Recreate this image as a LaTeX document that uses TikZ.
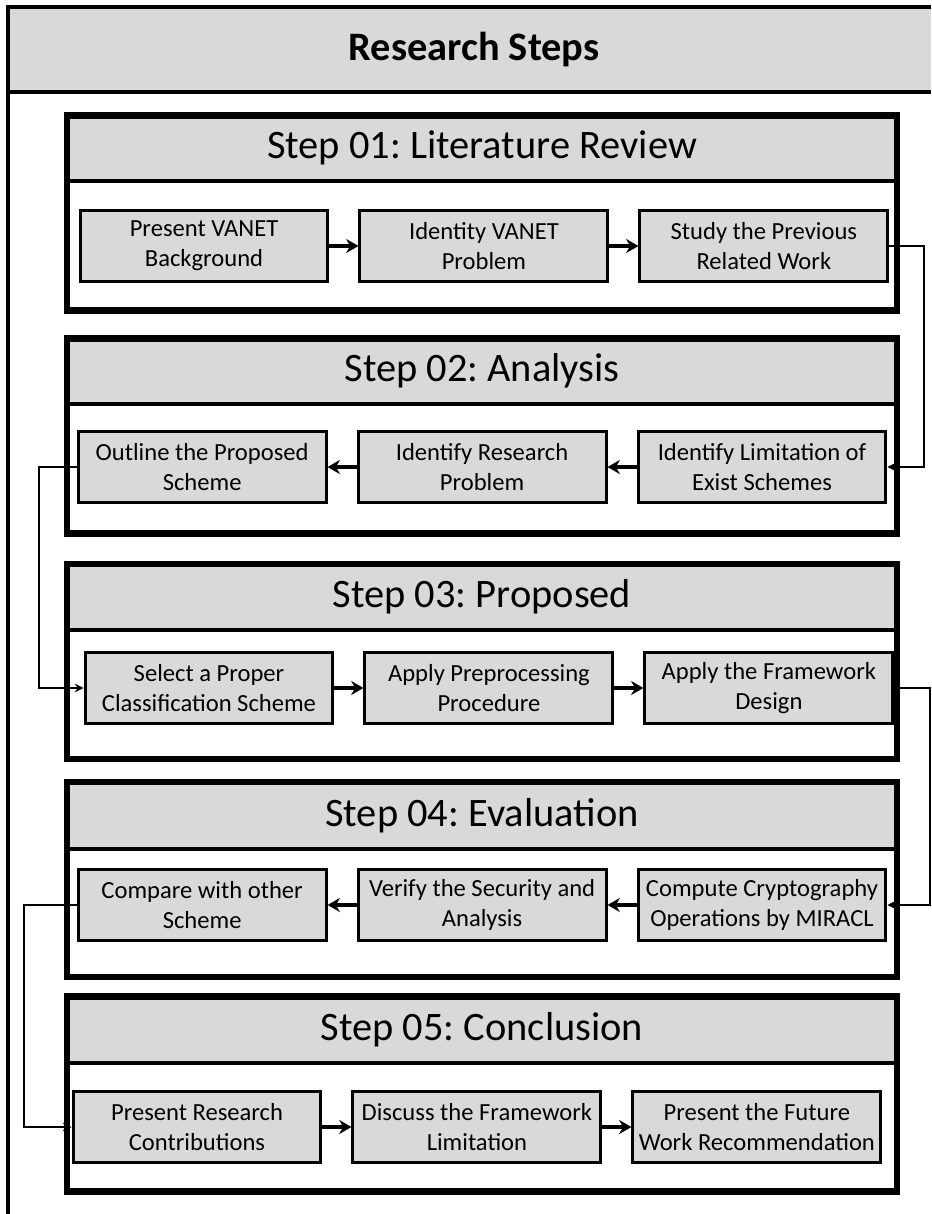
\documentclass[tikz,border=0pt]{standalone}
\usepackage{fontspec}
\setmainfont{Carlito}
\usepackage{tikz}
\usetikzlibrary{arrows.meta,positioning}
\definecolor{boxgray}{HTML}{D9D9D9}
\frenchspacing
\tikzset{
  task/.style={draw=black,line width=1.7pt,fill=boxgray,align=center,
               font=\fontsize{14}{17}\selectfont,minimum width=4.96cm,minimum height=1.42cm,inner sep=1pt},
  stepband/.style={draw=black,line width=2.3pt,fill=boxgray,minimum width=16.6cm,minimum height=1.32cm,
               font=\fontsize{23}{28}\selectfont,inner sep=0pt},
  stepframe/.style={draw=black,line width=3.6pt,minimum width=16.6cm,minimum height=3.9cm,inner sep=0pt},
  head/.style={font=\fontsize{23}{28}\selectfont\bfseries,inner sep=0pt},
  outerline/.style={draw=black,line width=2.8pt},
  arr/.style={-{Stealth[length=7pt,width=8pt]},line width=2.3pt},
  link/.style={-{Stealth[length=5pt,width=5pt]},line width=1.1pt},
}

\begin{document}
\begin{tikzpicture}[x=0.02cm,y=-0.02cm,node distance=0.58cm]
\useasboundingbox (0,0) rectangle (931,1214);
% outer frame
\fill[boxgray] (8,7) rectangle (931,92);
\draw[outerline] (931,7) -- (8,7) -- (8,1214);
\draw[outerline] (8,92) -- (931,92);
\node[head] (head) at (474,49.5) {Research Steps};
% step frames
\node[stepband] (t1) at (482,148) {Step 01: Literature Review};
\node[stepframe] (f1) at (482,213) {};
\node[stepband] (t2) at (482,371) {Step 02: Analysis};
\node[stepframe] (f2) at (482,436) {};
\node[stepband] (t3) at (482,597) {Step 03: Proposed};
\node[stepframe] (f3) at (482,661.5) {};
\node[stepband] (t4) at (482,816) {Step 04: Evaluation};
\node[stepframe] (f4) at (482,879.5) {};
\node[stepband] (t5) at (482,1030) {Step 05: Conclusion};
\node[stepframe] (f5) at (482,1094) {};
% step 01
\node[task] (s1a) at (204,246) {Present VANET\\Background};
\node[task,right=of s1a] (s1b) {Identity VANET\\Problem};
\node[task,right=of s1b] (s1c) {Study the Previous\\Related Work};
% step 02
\node[task] (s2a) at (762,467) {Identify Limitation of\\Exist Schemes};
\node[task,left=of s2a] (s2b) {Identify Research\\Problem};
\node[task,left=of s2b] (s2c) {Outline the Proposed\\Scheme};
% step 03
\node[task] (s3a) at (209,688) {Select a Proper\\Classification Scheme};
\node[task,right=of s3a] (s3b) {Apply Preprocessing\\Procedure};
\node[task,right=of s3b] (s3c) {Apply the Framework\\Design};
% step 04
\node[task] (s4a) at (762,905) {Compute Cryptography\\Operations by MIRACL};
\node[task,left=of s4a] (s4b) {Verify the Security and\\Analysis};
\node[task,left=of s4b] (s4c) {Compare with other\\Scheme};
% step 05
\node[task] (s5a) at (197,1127) {Present Research\\Contributions};
\node[task,right=of s5a] (s5b) {Discuss the Framework\\Limitation};
\node[task,right=of s5b] (s5c) {Present the Future\\Work Recommendation};
% arrows inside steps
\draw[arr] (s1a) -- (s1b);
\draw[arr] (s1b) -- (s1c);
\draw[arr] (s2a) -- (s2b);
\draw[arr] (s2b) -- (s2c);
\draw[arr] (s3a) -- (s3b);
\draw[arr] (s3b) -- (s3c);
\draw[arr] (s4a) -- (s4b);
\draw[arr] (s4b) -- (s4c);
\draw[arr] (s5a) -- (s5b);
\draw[arr] (s5b) -- (s5c);
% links between steps
\draw[link] (s1c.east) -- ++(0.7cm,0pt) |- (s2a.east);
\draw[link] (s2c.west) -- ++(-0.75cm,0pt) |- (s3a.west);
\draw[link] (s3c.east) -- ++(0.72cm,0pt) |- (s4a.east);
\draw[link] (s4c.west) -- ++(-1.05cm,0pt) |- (s5a.west);
\end{tikzpicture}
\end{document}
